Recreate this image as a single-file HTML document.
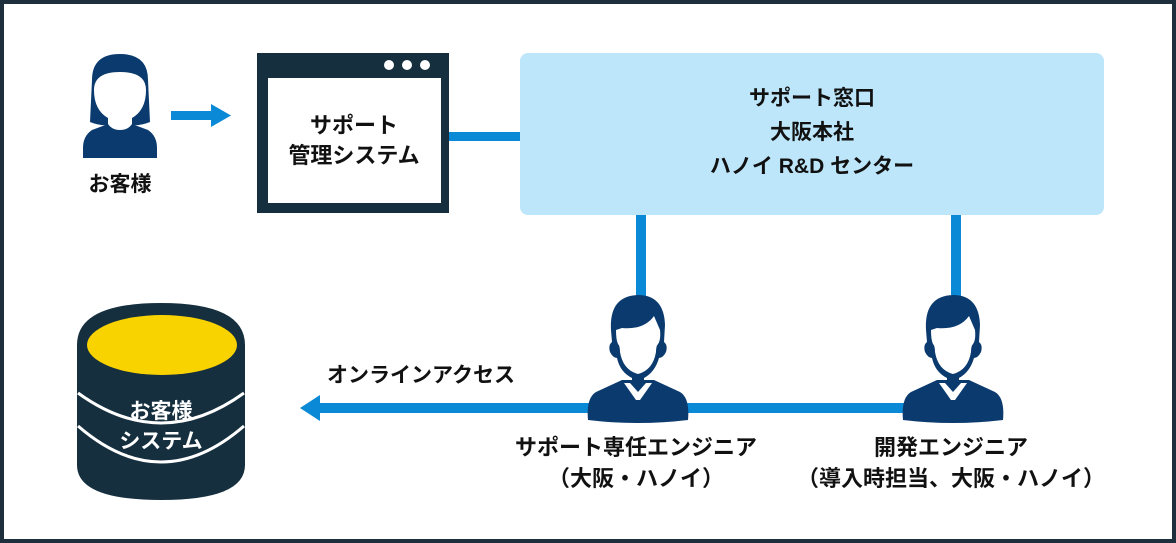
<!DOCTYPE html>
<html><head><meta charset="utf-8"><style>
html,body{margin:0;padding:0;background:#fff}
svg{display:block}
text{font-family:"Liberation Sans","Noto Sans CJK JP",sans-serif;font-weight:bold}
</style></head><body>
<svg width="1176" height="543" viewBox="0 0 1176 543" xmlns="http://www.w3.org/2000/svg">
<rect x="2" y="2" width="1172" height="539" fill="#fff" stroke="#1d2f3d" stroke-width="4"/>
<!-- connectors -->
<rect x="171" y="111" width="42" height="9" fill="#0a8ad6"/>
<polygon points="211,104 231,115.5 211,127" fill="#0a8ad6"/>
<rect x="449" y="132" width="72" height="9" fill="#0a8ad6"/>
<rect x="636" y="214" width="10" height="90" fill="#0a8ad6"/>
<rect x="951" y="214" width="10" height="90" fill="#0a8ad6"/>
<rect x="318" y="403" width="590" height="10" fill="#0a8ad6"/>
<polygon points="320,395 300,408 320,421" fill="#0a8ad6"/>
<!-- woman -->
<g fill="#0b3b6e">
<path d="M92 80 Q92 54 120 54 Q148 54 148 80 L150 122 Q140 126 132 125 L132 118 Q146 110 146 90 Q146 72 120 72 Q94 72 94 90 Q94 110 108 118 L108 125 Q100 126 90 122 Z"/>
<path d="M108 124 Q112 130 120 130 Q128 130 132 124 L148 130 Q157 136 157 148 L157 158 L83 158 L83 148 Q83 136 92 130 Z"/>
</g>
<text x="120" y="191" font-size="21" text-anchor="middle" fill="#111">お客様</text>
<!-- window -->
<rect x="257" y="53" width="192" height="160" fill="#162f3f"/>
<rect x="268" y="78" width="173" height="125" fill="#fff"/>
<circle cx="389" cy="65" r="5" fill="#fff"/><circle cx="407" cy="65" r="5" fill="#fff"/><circle cx="425" cy="65" r="5" fill="#fff"/>
<text x="354" y="133" font-size="22" text-anchor="middle" fill="#111">サポート</text>
<text x="354" y="163" font-size="22" text-anchor="middle" fill="#111">管理システム</text>
<!-- blue box -->
<rect x="520" y="53" width="584" height="162" rx="8" fill="#bde6fa"/>
<text x="812" y="105" font-size="21" text-anchor="middle" fill="#111">サポート窓口</text>
<text x="812" y="139" font-size="21" text-anchor="middle" fill="#111">大阪本社</text>
<text x="812" y="173" font-size="21" text-anchor="middle" fill="#111">ハノイ R&amp;D センター</text>
<!-- cylinder -->
<path d="M77 345 Q77 303 161 303 Q245 303 245 345 L245 465 Q245 500 161 500 Q77 500 77 465 Z" fill="#162f3f"/>
<ellipse cx="162" cy="345" rx="75" ry="30" fill="#f9d300"/>
<path d="M78 393 Q161 453 244 393" stroke="#fff" stroke-width="3" fill="none"/>
<path d="M78 426 Q161 498 244 426" stroke="#fff" stroke-width="3" fill="none"/>
<text x="161" y="418" font-size="21" text-anchor="middle" fill="#fff" font-weight="normal">お客様</text>
<text x="161" y="448" font-size="21" text-anchor="middle" fill="#fff" font-weight="normal">システム</text>
<text x="327" y="382" font-size="21" fill="#111">オンラインアクセス</text>
<!-- men -->
<g id="man" fill="#0b3b6e">
<path d="M611 330 Q609 296 638 295 Q664 295 665 325 L664 342 Q668 345 666 352 Q663 358 659 358 Q655 372 644 378 L644 386 L632 386 L632 378 Q620 372 617 358 Q613 358 610 352 Q608 345 612 342 Z" fill="#0b3b6e"/>
<path d="M616 330 Q616 340 618 344 Q620 346 620 352 Q623 370 638 374 Q653 370 656 352 Q656 346 658 344 Q661 340 660 330 L654 316 Q644 330 622 328 Z" fill="#fff"/>
<path d="M622 380 L654 380 L680 392 Q690 398 688 420 Q638 426 588 420 Q586 398 596 392 Z"/>
<path d="M624 383 L636 400 L640 400 L652 383 L646 383 L638 392 L630 383 Z" fill="#fff"/>
</g>
<use href="#man" x="315"/>
<text x="636" y="455" font-size="22" text-anchor="middle" fill="#111" font-weight="normal">サポート専任エンジニア</text>
<text x="636" y="486" font-size="22" text-anchor="middle" fill="#111" font-weight="normal">（大阪・ハノイ）</text>
<text x="951" y="455" font-size="22" text-anchor="middle" fill="#111" font-weight="normal">開発エンジニア</text>
<text x="951" y="486" font-size="22" text-anchor="middle" fill="#111" font-weight="normal">（導入時担当、大阪・ハノイ）</text>
</svg>
</body></html>
